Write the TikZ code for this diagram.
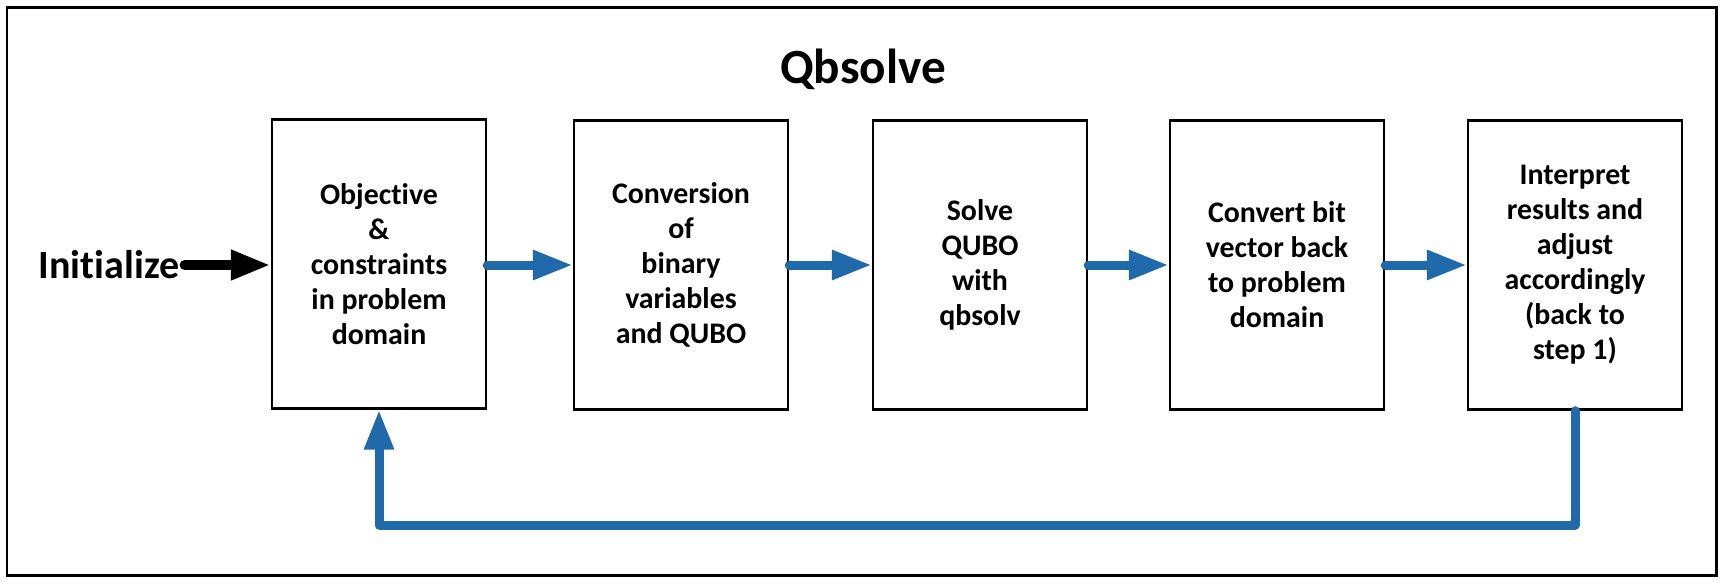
\documentclass[tikz,border=0pt]{standalone}
\usepackage{fontspec}
\setmainfont{Carlito}[Ligatures=NoCommon]
\usetikzlibrary{arrows.meta}
\definecolor{flowblue}{RGB}{32,106,172}

\begin{document}
\begin{tikzpicture}[x=0.02cm,y=-0.02cm,
  every node/.style={font=\bfseries},
  stepbox/.style={draw,line width=0.05cm,minimum width=4.28cm,minimum height=5.78cm,
    align=center,inner sep=0pt,font=\fontsize{17}{19.9}\selectfont\bfseries},
  flow/.style={flowblue,line width=0.18cm,line cap=round,line join=round,
    -{Triangle[length=0.8cm,width=0.56cm]}}]
\useasboundingbox (0,0) rectangle (1725,582);
\draw[line width=0.06cm] (7,7) rectangle (1716,575);
\node (title) at (863,69) {\fontsize{28}{34}\selectfont Qbsolve};
\node[stepbox] (b1) at (379,264) {Objective\\\&\\constraints\\in problem\\domain};
\node[stepbox] (b2) at (681,265) {Conversion\\of\\binary\\variables\\and QUBO};
\node[stepbox] (b3) at (980,265) {Solve\\QUBO\\with\\qbsolv};
\node[stepbox] (b4) at (1277,265) {Convert bit\\vector back\\to problem\\domain};
\node[stepbox] (b5) at (1575,265) {Interpret\\results and\\adjust\\accordingly\\(back to\\step 1)};
\node[font=\fontsize{22.8}{27}\selectfont\bfseries,inner xsep=0.1cm,inner ysep=0pt] (init) at (109,265) {Initialize};
\draw[flow,black,line width=0.2cm] (init.east) -- (init.east -| b1.west);
\foreach \a/\b in {b1/b2,b2/b3,b3/b4,b4/b5} \draw[flow] (\a.east |- b2.east) -- (\b.west |- b2.west);
% feedback loop
\coordinate (loop) at (0,525);
\draw[flow] (b5.south) -- (b5.south |- loop) -- (b1.south |- loop) -- (b1.south);
\end{tikzpicture}
\end{document}
